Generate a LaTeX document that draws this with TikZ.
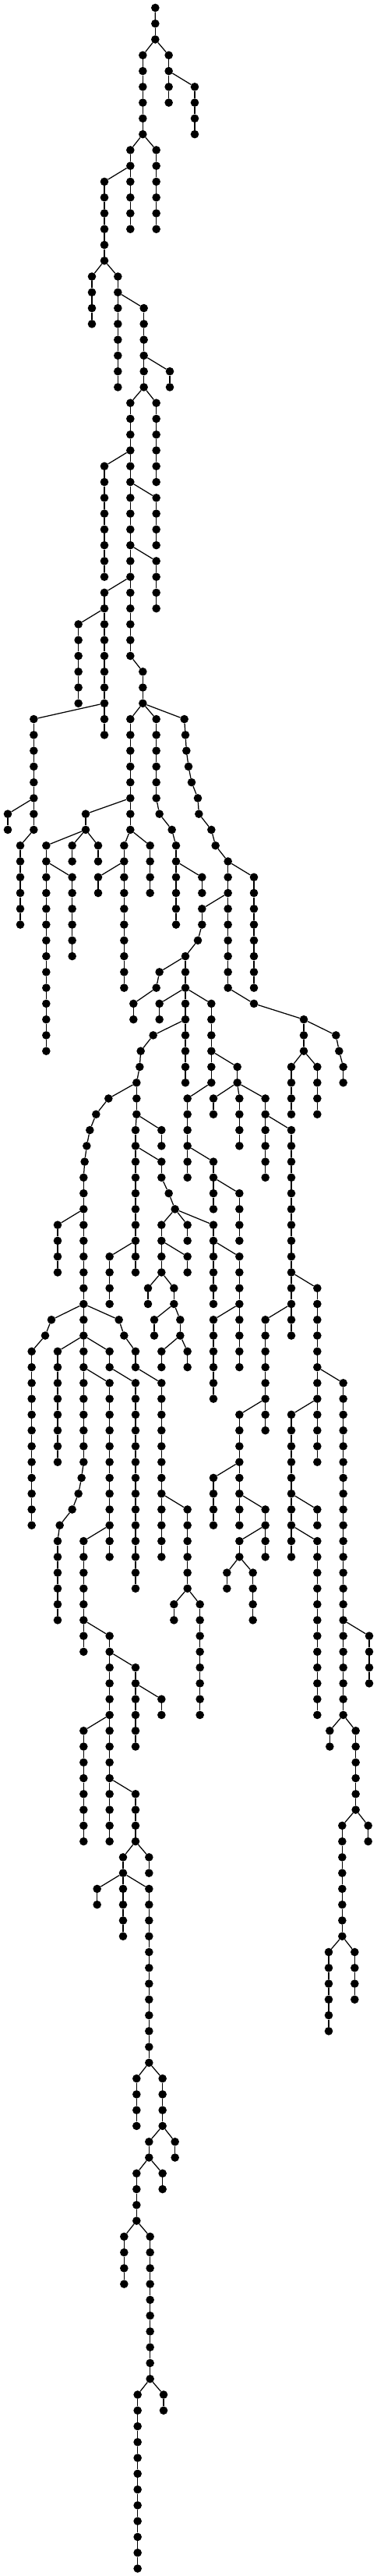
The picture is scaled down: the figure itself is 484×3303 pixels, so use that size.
\documentclass[tikz,border=0pt]{standalone}
\tikzset{
  dot/.style={circle,fill=black,draw=none,inner sep=0pt,minimum size=10.6pt},
  edgeline/.style={draw=black,line width=1.25pt}
}
% \chn{parent level}{parent x}{chain x}{number of nodes}
\newcommand\chn[4]{\foreach \i in {1,...,#4}{%
  \pgfmathtruncatemacro\lv{#1+\i}%
  \pgfmathtruncatemacro\pv{\lv-1}%
  \pgfmathsetmacro\yy{-(10+20.268*\lv)}%
  \pgfmathsetmacro\xx{#3/3}%
  \node[dot] (n#3-\lv) at (\xx,\yy) {};%
  \ifnum\i=1 \draw[edgeline] (n#2-\pv) -- (n#3-\lv);\else \draw[edgeline] (n#3-\pv) -- (n#3-\lv);\fi
}}
\begin{document}
\begin{tikzpicture}[x=1pt,y=1pt]
\fill[white] (0,0) rectangle (484,-3303);
\useasboundingbox (0,0) rectangle (484,-3303);
\node[dot] (n598-0) at (199.33,-10) {};
\chn{0}{598}{598}{2}
\chn{2}{598}{550}{6}
\chn{2}{598}{650}{4}
\chn{4}{650}{750}{4}
\chn{8}{550}{502}{6}
\chn{8}{550}{602}{6}
\chn{10}{502}{402}{6}
\chn{16}{402}{354}{4}
\chn{16}{402}{454}{8}
\chn{18}{454}{554}{6}
\chn{22}{554}{654}{2}
\chn{24}{554}{502}{17}
\chn{24}{554}{602}{6}
\chn{28}{502}{402}{8}
\chn{30}{502}{602}{4}
\chn{34}{502}{602}{4}
\chn{36}{502}{402}{10}
\chn{38}{402}{302}{6}
\chn{41}{502}{550}{3}
\chn{44}{402}{130}{8}
\chn{50}{130}{30}{2}
\chn{52}{130}{78}{6}
\chn{44}{550}{502}{8}
\chn{44}{550}{602}{6}
\chn{44}{550}{710}{1}
\chn{45}{710}{714}{1}
\chn{46}{714}{718}{1}
\chn{47}{718}{726}{1}
\chn{48}{726}{738}{1}
\chn{49}{738}{762}{1}
\chn{50}{762}{766}{1}
\chn{51}{766}{814}{1}
\chn{52}{814}{830}{1}
\chn{53}{830}{878}{9}
\chn{50}{502}{330}{2}
\chn{52}{330}{178}{14}
\chn{52}{330}{278}{2}
\chn{52}{330}{378}{2}
\chn{54}{178}{278}{6}
\chn{52}{502}{478}{10}
\chn{52}{502}{578}{4}
\chn{54}{478}{378}{2}
\chn{50}{602}{614}{1}
\chn{51}{614}{662}{1}
\chn{52}{662}{678}{6}
\chn{54}{678}{778}{2}
\chn{54}{878}{978}{8}
\chn{56}{878}{778}{2}
\chn{58}{778}{762}{1}
\chn{59}{762}{714}{3}
\chn{60}{714}{614}{1}
\chn{61}{614}{602}{1}
\chn{62}{602}{514}{2}
\chn{62}{714}{614}{2}
\chn{62}{714}{714}{6}
\chn{62}{714}{814}{6}
\chn{64}{714}{590}{1}
\chn{65}{590}{542}{1}
\chn{66}{542}{538}{1}
\chn{67}{538}{526}{3}
\chn{66}{814}{914}{2}
\chn{62}{878}{978}{1}
\chn{63}{978}{1170}{3}
\chn{66}{1170}{1122}{4}
\chn{66}{1170}{1222}{4}
\chn{64}{1170}{1294}{1}
\chn{65}{1294}{1306}{1}
\chn{66}{1306}{1322}{2}
\chn{68}{526}{418}{1}
\chn{69}{418}{370}{1}
\chn{70}{370}{346}{1}
\chn{71}{346}{334}{1}
\chn{72}{334}{326}{1}
\chn{73}{326}{322}{11}
\chn{76}{322}{222}{4}
\chn{70}{526}{622}{2}
\chn{70}{526}{522}{10}
\chn{72}{522}{622}{2}
\chn{74}{622}{650}{1}
\chn{75}{650}{674}{1}
\chn{76}{674}{622}{4}
\chn{76}{674}{722}{2}
\chn{76}{674}{822}{6}
\chn{78}{622}{722}{2}
\chn{78}{822}{922}{8}
\chn{80}{622}{570}{2}
\chn{80}{622}{670}{2}
\chn{82}{670}{594}{2}
\chn{82}{670}{694}{2}
\chn{84}{694}{622}{2}
\chn{84}{694}{722}{2}
\chn{78}{522}{422}{4}
\chn{68}{814}{722}{6}
\chn{72}{722}{822}{4}
\chn{74}{822}{922}{4}
\chn{68}{914}{822}{2}
\chn{68}{914}{922}{4}
\chn{68}{914}{1022}{6}
\chn{70}{1022}{1122}{14}
\chn{80}{1122}{1222}{12}
\chn{86}{1222}{1322}{22}
\chn{82}{1122}{1022}{8}
\chn{88}{1022}{922}{8}
\chn{82}{922}{822}{6}
\chn{88}{1222}{1122}{10}
\chn{92}{922}{822}{4}
\chn{94}{922}{1022}{4}
\chn{96}{1022}{922}{2}
\chn{98}{922}{874}{2}
\chn{98}{922}{974}{4}
\chn{94}{1122}{1222}{2}
\chn{96}{1122}{1222}{12}
\chn{82}{322}{198}{1}
\chn{83}{198}{174}{1}
\chn{84}{174}{122}{12}
\chn{84}{322}{222}{8}
\chn{84}{322}{322}{8}
\chn{84}{322}{422}{2}
\chn{86}{322}{422}{12}
\chn{86}{422}{522}{14}
\chn{92}{322}{314}{1}
\chn{93}{314}{302}{1}
\chn{94}{302}{278}{1}
\chn{95}{278}{230}{1}
\chn{96}{230}{222}{6}
\chn{82}{322}{458}{1}
\chn{83}{458}{478}{1}
\chn{84}{478}{522}{2}
\chn{86}{522}{622}{12}
\chn{94}{622}{722}{6}
\chn{100}{722}{670}{2}
\chn{100}{722}{770}{8}
\chn{96}{422}{322}{8}
\chn{102}{322}{422}{14}
\chn{104}{422}{522}{6}
\chn{106}{522}{622}{2}
\chn{108}{422}{322}{8}
\chn{112}{422}{522}{4}
\chn{116}{522}{474}{6}
\chn{116}{522}{574}{2}
\chn{118}{474}{374}{2}
\chn{118}{474}{574}{12}
\chn{130}{574}{526}{4}
\chn{130}{574}{626}{4}
\chn{134}{626}{574}{2}
\chn{134}{626}{674}{2}
\chn{136}{574}{526}{4}
\chn{136}{574}{626}{2}
\chn{140}{526}{478}{4}
\chn{140}{526}{578}{10}
\chn{150}{578}{530}{12}
\chn{150}{578}{630}{2}
\chn{102}{1322}{1422}{4}
\chn{108}{1322}{1270}{2}
\chn{108}{1322}{1370}{6}
\chn{114}{1370}{1318}{8}
\chn{114}{1370}{1418}{2}
\chn{122}{1318}{1266}{6}
\chn{122}{1318}{1366}{4}
\end{tikzpicture}
\end{document}
